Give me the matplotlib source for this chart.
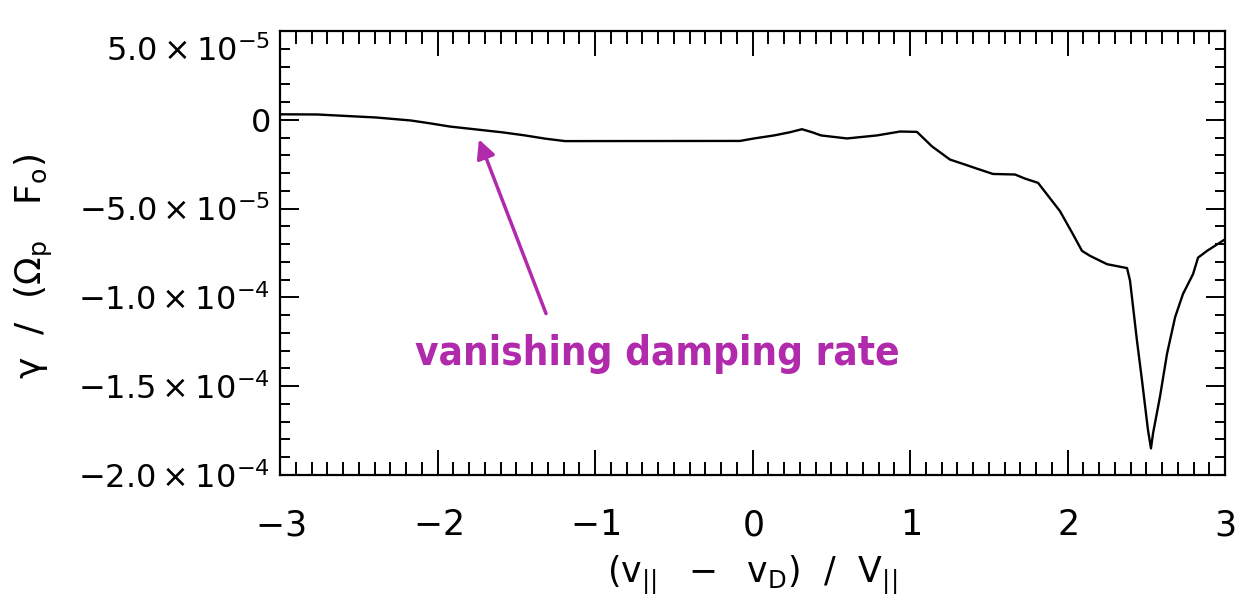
import matplotlib
matplotlib.use("Agg")
import matplotlib.pyplot as plt
import matplotlib.transforms as mtransforms
from matplotlib.ticker import FixedLocator, FixedFormatter, MultipleLocator

# ---- data ----
x_vals = [-3.000, -2.765, -2.390, -2.168, -2.054, -1.921, -1.737, -1.584, -1.444,
          -1.317, -1.190, -0.079, 0.010, 0.137, 0.238, 0.314, 0.378, 0.435, 0.600,
          0.790, 0.937, 1.044, 1.140, 1.254, 1.349, 1.425, 1.527, 1.667, 1.730,
          1.813, 1.952, 2.035, 2.092, 2.143, 2.251, 2.378, 2.397, 2.441, 2.473,
          2.511, 2.530, 2.543, 2.587, 2.632, 2.683, 2.733, 2.797, 2.829, 2.886, 3.000]
gamma_e6 = [3.1, 3.0, 1.3, -0.4, -1.9, -3.8, -5.6, -7.1, -8.8,
            -10.6, -12.0, -11.9, -10.5, -8.8, -7.0, -5.3, -7.0, -8.8, -10.5,
            -8.8, -6.6, -6.8, -15.0, -22.4, -25.2, -27.5, -30.5, -30.8, -33.1,
            -35.5, -51.4, -64.5, -73.8, -76.6, -81.3, -83.5, -90.6, -124.3, -146.7,
            -174.7, -185.0, -176.6, -156.0, -131.7, -111.2, -98.1, -86.9, -77.6, -73.8, -67.3]
gamma = [g * 1e-6 for g in gamma_e6]

x_ticks = [-3, -2, -1, 0, 1, 2, 3]
x_ticklabels = ["$-3$", "$-2$", "$-1$", "$0$", "$1$", "$2$", "$3$"]
y_ticks = [-2.0e-4, -1.5e-4, -1.0e-4, -5.0e-5, 0.0, 5.0e-5]
y_ticklabels = [r"$-2.0\times10^{-4}$", r"$-1.5\times10^{-4}$", r"$-1.0\times10^{-4}$",
                r"$-5.0\times10^{-5}$", r"$0$", r"$5.0\times10^{-5}$"]

annot_text = "vanishing damping rate"
annot_tip = (-1.737, -11.0e-6)
annot_tail = (-1.311, -109.1e-6)
annot_text_pos = (-2.143, -138.3e-6)

plt.rcParams['mathtext.fontset'] = 'dejavusans'
plt.rcParams['mathtext.default'] = 'regular'

fig = plt.figure(figsize=(12.45, 6.10), dpi=100)
ax = fig.add_axes([280/1245, 1 - 475/610, (1225 - 280)/1245, (475 - 31)/610])

ax.plot(x_vals, gamma, color='black', lw=1.7)

ax.set_xlim(-3, 3)
ax.set_ylim(-2.0e-4, 5.0e-5)

ax.xaxis.set_major_locator(FixedLocator(x_ticks))
ax.xaxis.set_major_formatter(FixedFormatter(x_ticklabels))
ax.xaxis.set_minor_locator(MultipleLocator(0.1))
ax.yaxis.set_major_locator(FixedLocator(y_ticks))
ax.yaxis.set_major_formatter(FixedFormatter(y_ticklabels))
ax.yaxis.set_minor_locator(MultipleLocator(1e-5))

ax.tick_params(axis='x', which='both', direction='in', top=True, bottom=True,
               width=1.4, labelsize=25, pad=24)
ax.tick_params(axis='x', which='major', length=18)
ax.tick_params(axis='x', which='minor', length=9.5)
ax.tick_params(axis='y', which='both', direction='in', left=True, right=True,
               width=1.4, labelsize=23, pad=7)
ax.tick_params(axis='y', which='major', length=14)
ax.tick_params(axis='y', which='minor', length=7.5)

for s in ax.spines.values():
    s.set_linewidth(1.6)

ax.set_xlabel(r"$(v_{||}\ \ -\ \ v_D)\ \ /\ \ V_{||}$", fontsize=25, labelpad=8)
ax.set_ylabel(r"$\gamma\ \ /\ \ (\Omega_p\ \ \ F_o)$", fontsize=26)
ax.yaxis.set_label_coords(-0.238, 0.47)

# shift top y tick label down (as in the reference)
fig.canvas.draw()
top_lbl = ax.yaxis.get_major_ticks()[-1].label1
top_lbl.set_transform(top_lbl.get_transform() +
                      mtransforms.ScaledTranslation(0, -12/72, fig.dpi_scale_trans))

col = '#B02AAB'
ax.annotate("", xy=annot_tip, xytext=annot_tail,
            arrowprops=dict(arrowstyle='-|>', color=col, lw=2.5,
                            mutation_scale=28, shrinkA=0, shrinkB=0))
ax.text(annot_text_pos[0], annot_text_pos[1], annot_text, color=col,
        fontsize=29, fontweight='bold', family='DejaVu Sans', fontstretch='condensed',
        ha='left', va='baseline')

fig.savefig("out.png", dpi=100)
